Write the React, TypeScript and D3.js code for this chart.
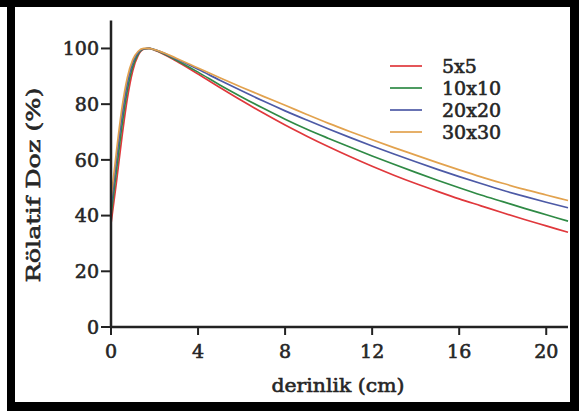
import React from "react";
import * as d3 from "d3";

// Depth (cm) sample points for the percentage depth dose curves
const depths = [0, 0.25, 0.5, 0.75, 1.0, 1.25, 1.5, 1.75, 2, 3, 4, 5, 6, 7, 8, 9, 10, 11, 12, 13, 14, 15, 16, 17, 18, 19, 20, 21];

// Relative dose (%) for each field size
const dose5x5 = [37, 52, 68, 82, 92, 97.5, 99.7, 100, 99.4, 95.5, 90.8, 86, 81.3, 76.8, 72.5, 68.5, 64.7, 61.1, 57.7, 54.5, 51.5, 48.7, 46, 43.5, 41, 38.6, 36.3, 34];
const dose10x10 = [40, 56, 72, 85, 93.5, 98, 99.8, 100, 99.5, 95.8, 91.5, 86.9, 82.6, 78.5, 74.6, 71, 67.7, 64.5, 61.4, 58.4, 55.5, 52.7, 50, 47.4, 45, 42.6, 40.3, 38];
const dose20x20 = [43, 60, 75.5, 87.5, 95, 98.6, 99.9, 100, 99.6, 96.2, 92.5, 88.6, 84.8, 81.1, 77.6, 74.3, 71.1, 68, 65, 62.1, 59.3, 56.6, 54, 51.5, 49.1, 46.9, 44.8, 42.8];
const dose30x30 = [46, 63, 78.5, 89.5, 96, 99, 100, 100, 99.6, 96.5, 93, 89.5, 86.1, 82.8, 79.6, 76.3, 73.1, 70.1, 67.2, 64.4, 61.7, 59, 56.4, 53.9, 51.6, 49.4, 47.4, 45.4];

const seriesNames = ["5x5", "10x10", "20x20", "30x30"];
const seriesValues = [dose5x5, dose10x10, dose20x20, dose30x30];
const seriesColors = ["#e0383c", "#2f8a45", "#4d5aa6", "#e2a24e"];

const xTicks = [0, 4, 8, 12, 16, 20];
const yTicks = [0, 20, 40, 60, 80, 100];

const xLabel = "derinlik (cm)";
const yLabel = "Rölatif Doz (%)";

const W = 579;
const H = 414;
const FONT = "'DejaVu Serif', 'Liberation Serif', serif";
const TEXT = "#262626";

// semi-bold look: regular glyphs with a thin outline in the same colour
const textStyle = {
  fontFamily: FONT,
  fontSize: 19,
  fill: TEXT,
  stroke: TEXT,
  strokeWidth: 0.6,
};

export default function App() {
  const x = d3.scaleLinear().domain([0, 21]).range([111, 568]);
  const y = d3.scaleLinear().domain([0, 110]).range([327, 20.6]);

  const line = d3
    .line<number>()
    .x((_, i) => x(depths[i]))
    .y((v) => y(v))
    .curve(d3.curveMonotoneX);

  const x0 = x(0);
  const y0 = y(0);

  return (
    <svg
      width={W}
      height={H}
      style={{ position: "absolute", left: 0, top: 0, background: "#fff" }}
    >
      <rect x={0} y={0} width={W} height={H} fill="#fff" />

      {/* curves */}
      {seriesValues.map((vals, i) => (
        <path
          key={seriesNames[i]}
          d={line(vals) || ""}
          fill="none"
          stroke={seriesColors[i]}
          strokeWidth={1.7}
        />
      ))}

      {/* y axis */}
      <line x1={x0} x2={x0} y1={y(110)} y2={y0 + 1} stroke="#222" strokeWidth={2.5} />
      {yTicks.map((t) => (
        <g key={"y" + t}>
          <line x1={x0 - 10} x2={x0} y1={y(t)} y2={y(t)} stroke="#222" strokeWidth={2} />
          <text x={x0 - 12} y={y(t)} dy="0.36em" textAnchor="end" style={textStyle}>
            {t}
          </text>
        </g>
      ))}

      {/* x axis */}
      <line x1={x0 - 1} x2={x(21)} y1={y0} y2={y0} stroke="#222" strokeWidth={2.5} />
      {xTicks.map((t) => (
        <g key={"x" + t}>
          <line x1={x(t)} x2={x(t)} y1={y0} y2={y0 + 8} stroke="#222" strokeWidth={2} />
          <text x={x(t)} y={358} textAnchor="middle" style={textStyle}>
            {t}
          </text>
        </g>
      ))}

      {/* axis titles */}
      <text
        x={338}
        y={392}
        textAnchor="middle"
        style={textStyle}
        textLength={133}
        lengthAdjust="spacingAndGlyphs"
      >
        {xLabel}
      </text>
      <text
        transform={`translate(40,185) rotate(-90)`}
        textAnchor="middle"
        style={textStyle}
        textLength={195}
        lengthAdjust="spacingAndGlyphs"
      >
        {yLabel}
      </text>

      {/* legend */}
      {seriesNames.map((name, i) => {
        const ly = 66 + i * 22;
        return (
          <g key={"lg" + name}>
            <line x1={390} x2={422} y1={ly} y2={ly} stroke={seriesColors[i]} strokeWidth={1.7} />
            <text x={442} y={ly} dy="0.36em" style={textStyle}>
              {name}
            </text>
          </g>
        );
      })}

      {/* frame */}
      <rect x={0} y={0} width={W} height={7} fill="#000" />
      <rect x={7} y={0} width={8} height={411} fill="#000" />
      <rect x={570} y={0} width={9} height={411} fill="#000" />
      <rect x={7} y={402} width={572} height={9} fill="#000" />
    </svg>
  );
}
